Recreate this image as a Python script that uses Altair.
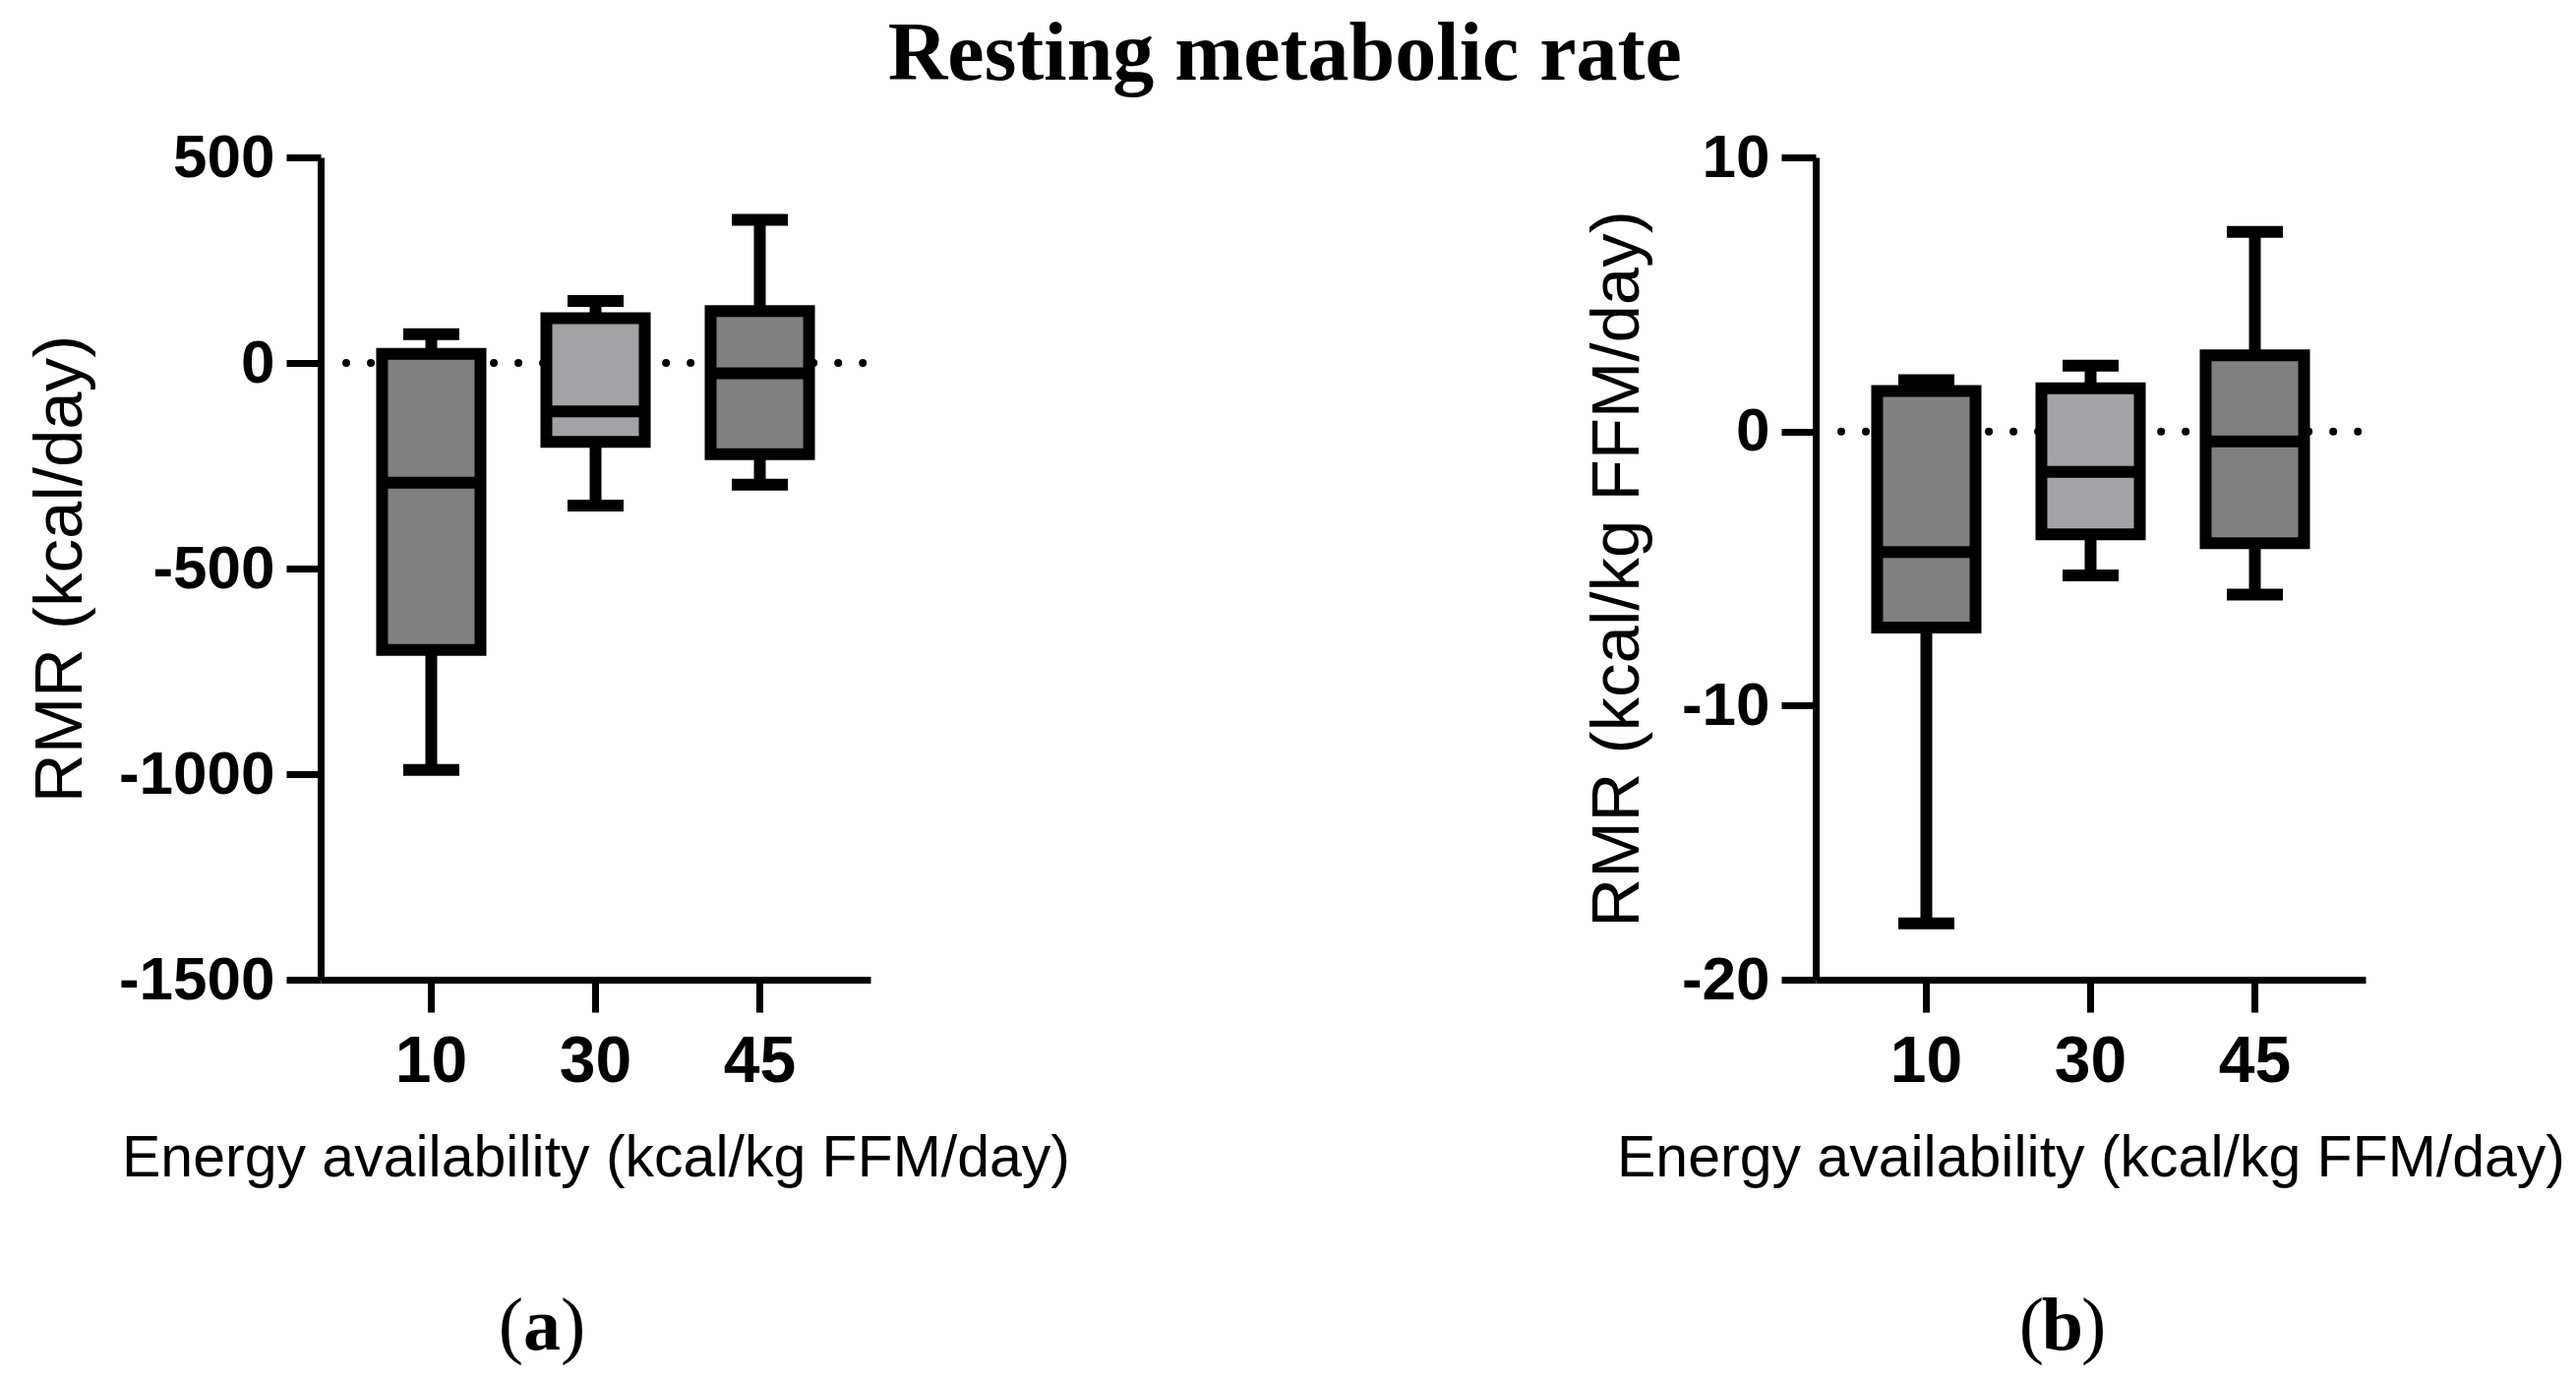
import altair as alt
import pandas as pd

# Energy-availability groups (kcal/kg FFM/day)
groups = ["10", "30", "45"]
box_fill = ["#808080", "#a3a3a7", "#808080"]

# Panel (a): change in RMR, kcal/day — min, Q1, median, Q3, max per group
a_min = [-990, -347, -296]
a_q1 = [-698, -192, -222]
a_med = [-291, -118, -25]
a_q3 = [22, 109, 126]
a_max = [70, 151, 348]

# Panel (b): change in RMR, kcal/kg FFM/day
b_min = [-17.95, -5.25, -5.95]
b_q1 = [-7.15, -3.75, -4.08]
b_med = [-4.4, -1.47, -0.36]
b_q3 = [1.48, 1.58, 2.78]
b_max = [1.87, 2.4, 7.28]

a_ticks = [500, 0, -500, -1000, -1500]
b_ticks = [10, 0, -10, -20]

W, H = 559, 836
LINE = 12
BOX_W = 100
CAP_W = 57
SANS = "Liberation Sans"
SERIF = "Liberation Serif"


def stats_frame(mn, q1, med, q3, mx):
    return pd.DataFrame({
        "group": groups, "min": mn, "q1": q1, "med": med,
        "q3": q3, "max": mx, "fill": box_fill,
    })


def panel(df, ydomain, yticks, ytitle, letter, letter_x):
    xscale = alt.Scale(domain=groups, paddingInner=0.401, paddingOuter=0.374)
    xaxis = alt.Axis(
        title="Energy availability (kcal/kg FFM/day)", titleFont=SANS, titleFontSize=59,
        titleFontWeight="normal", titlePadding=36, labelAngle=0, labelFont=SANS,
        labelFontSize=66, labelFontWeight="bold", labelPadding=18, tickSize=33,
        tickWidth=7, domainWidth=7,
    )
    yscale = alt.Scale(domain=ydomain, nice=False, zero=False)
    yaxis = alt.Axis(
        values=yticks, title=ytitle, titleFont=SANS, titleFontSize=69,
        titleFontWeight="normal", titlePadding=30, labelFont=SANS, labelFontSize=62,
        labelFontWeight="bold", labelPadding=12, tickSize=35, tickWidth=7,
        domainWidth=7, labelFlush=False, labelOverlap=False,
        labelExpr="'' + datum.value",
    )

    base = alt.Chart(df).encode(x=alt.X("group:N", scale=xscale, axis=xaxis, sort=groups))

    # dotted reference line at zero
    zero = alt.Chart(pd.DataFrame({"v": [0]})).mark_rule(
        color="black", strokeWidth=8, strokeDash=[0.01, 25], strokeCap="round"
    ).encode(y=alt.Y("v:Q", scale=yscale, axis=yaxis), x=alt.value(26), x2=alt.value(W))

    whisk_lo = base.mark_rule(color="black", strokeWidth=LINE).encode(
        y=alt.Y("min:Q", scale=yscale, axis=yaxis), y2="q1:Q")
    whisk_hi = base.mark_rule(color="black", strokeWidth=LINE).encode(
        y=alt.Y("q3:Q", scale=yscale, axis=yaxis), y2="max:Q")
    box = base.mark_bar(stroke="black", strokeWidth=LINE, opacity=1).encode(
        y=alt.Y("q1:Q", scale=yscale, axis=yaxis), y2="q3:Q",
        fill=alt.Fill("fill:N", scale=None))
    median = base.mark_tick(color="black", thickness=LINE, size=BOX_W, opacity=1).encode(
        y=alt.Y("med:Q", scale=yscale, axis=yaxis))
    cap_lo = base.mark_tick(color="black", thickness=LINE, size=CAP_W, opacity=1).encode(
        y=alt.Y("min:Q", scale=yscale, axis=yaxis))
    cap_hi = base.mark_tick(color="black", thickness=LINE, size=CAP_W, opacity=1).encode(
        y=alt.Y("max:Q", scale=yscale, axis=yaxis))

    # panel letter "(a)" / "(b)": parentheses regular, letter bold
    ly = 1212
    letter_mark = alt.Chart(pd.DataFrame({"t": [letter]})).mark_text(
        font=SERIF, fontSize=76, fontWeight="bold", baseline="alphabetic", align="center"
    ).encode(text="t:N", x=alt.value(letter_x), y=alt.value(ly))
    lpar = alt.Chart(pd.DataFrame({"t": ["("]})).mark_text(
        font=SERIF, fontSize=76, baseline="alphabetic", align="right"
    ).encode(text="t:N", x=alt.value(letter_x - 19), y=alt.value(ly))
    rpar = alt.Chart(pd.DataFrame({"t": [")"]})).mark_text(
        font=SERIF, fontSize=76, baseline="alphabetic", align="left"
    ).encode(text="t:N", x=alt.value(letter_x + 19), y=alt.value(ly))

    return alt.layer(zero, whisk_lo, whisk_hi, box, median, cap_lo, cap_hi,
                     letter_mark, lpar, rpar).properties(width=W, height=H)


panel_a = panel(stats_frame(a_min, a_q1, a_med, a_q3, a_max), [-1500, 500], a_ticks,
                "RMR (kcal/day)", "a", 225)
panel_b = panel(stats_frame(b_min, b_q1, b_med, b_q3, b_max), [-20, 10], b_ticks,
                "RMR (kcal/kg FFM/day)", "b", 251)

chart = alt.hconcat(panel_a, panel_b, spacing=522).properties(
    title=alt.TitleParams("Resting metabolic rate", font=SERIF, fontSize=84,
                          fontWeight="bold", anchor="middle", offset=30, dx=-11,
                          color="black"),
    padding={"left": 27, "top": 14, "right": 10, "bottom": 10},
).configure(background="white").configure_view(stroke=None).configure_axis(
    domainColor="black", tickColor="black", labelColor="black", titleColor="black", grid=False
)

chart.save("out.html", embed_options={"renderer": "svg", "actions": False})
